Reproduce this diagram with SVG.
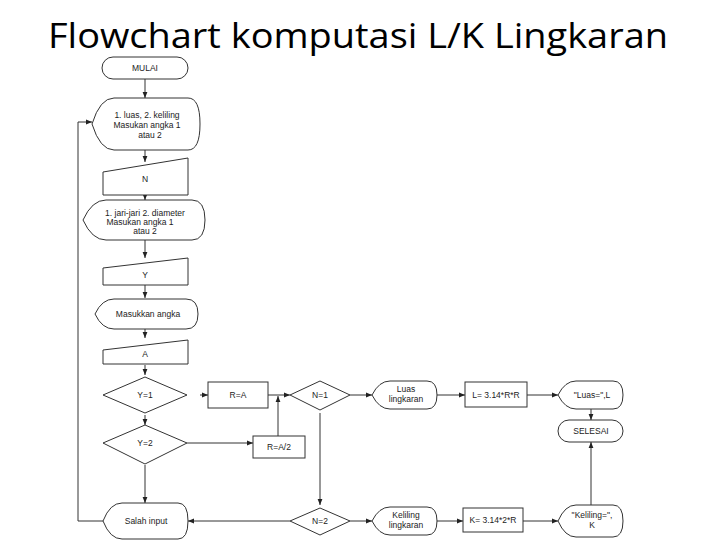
<svg xmlns="http://www.w3.org/2000/svg" width="720" height="540" viewBox="0 0 720 540">
<style>
.s{fill:#fff;stroke:#333;stroke-width:1}
.t{font-family:"Liberation Sans",Arial,sans-serif;font-size:8.5px;fill:#222;text-anchor:middle}
.c{fill:none;stroke:#333;stroke-width:1}
</style>
<defs><marker id="a" viewBox="0 0 10 10" refX="10" refY="5" markerWidth="6" markerHeight="6" orient="auto"><path d="M0,1L10,5L0,9Z" fill="#222"/></marker></defs>
<rect width="720" height="540" fill="#fff"/>
<text x="358" y="48" font-family="'Open Sans','Liberation Sans',sans-serif" font-size="35" text-anchor="middle" textLength="620" lengthAdjust="spacingAndGlyphs" fill="#000">Flowchart komputasi L/K Lingkaran</text>
<g id="connectors" class="c" marker-end="url(#a)">
<path d="M145,78V98"/><path d="M145,150V162"/><path d="M145,195V200"/><path d="M145,238V258"/>
<path d="M145,285V298"/><path d="M145,328V338"/><path d="M145,365V375"/><path d="M145,415V425"/>
<path d="M145,465V503"/><path d="M103,521H78V122H92"/>
<path d="M200,395H208"/><path d="M187,443H253"/><path d="M278,436V396"/><path d="M268,395H290"/>
<path d="M350,395H372"/><path d="M320,413V505"/><path d="M290,521H188"/><path d="M350,521H372"/>
<path d="M437,395H465"/><path d="M527,395H558"/><path d="M591,408V420"/>
<path d="M437,521H463"/><path d="M523,521H558"/><path d="M591,505V442"/>
</g>
<g id="mulai"><rect class="s" x="102" y="57" width="86" height="22" rx="11"/><text class="t" x="145" y="71">MULAI</text></g>
<g id="pilih1"><path class="s" d="M92,124Q100,98 114,98L188,98Q200,98 200,124Q200,150 188,150L114,150Q100,150 92,124Z"/><text class="t" x="147" y="118">1. luas, 2. keliling</text><text class="t" x="147" y="128">Masukan angka 1</text><text class="t" x="150" y="138">atau 2</text></g>
<g id="inN"><path class="s" d="M103,172L188,158V195H103Z"/><text class="t" x="145" y="182">N</text></g>
<g id="pilih2"><path class="s" d="M83,220Q92,200 106,200L192,200Q205,200 205,220Q205,240 192,240L106,240Q92,240 83,220Z"/><text class="t" x="145" y="216">1. jari-jari 2. diameter</text><text class="t" x="140" y="225">Masukan angka 1</text><text class="t" x="145" y="234">atau 2</text></g>
<g id="inY"><path class="s" d="M103,268L188,258V285H103Z"/><text class="t" x="145" y="278">Y</text></g>
<g id="masuk"><path class="s" d="M95,314Q102,299 114,299L186,299Q198,299 198,314Q198,329 186,329L114,329Q102,329 95,314Z"/><text class="t" x="148" y="317">Masukkan angka</text></g>
<g id="inA"><path class="s" d="M103,350L188,340V364H103Z"/><text class="t" x="145" y="357">A</text></g>
<g id="y1"><path class="s" d="M145,377L187,395L145,413L103,395Z"/><text class="t" x="145" y="398">Y=1</text></g>
<g id="y2"><path class="s" d="M145,425L187,443L145,464L103,443Z"/><text class="t" x="145" y="446">Y=2</text></g>
<g id="salah"><path class="s" d="M103,521Q110,503 122,503L178,503Q188,503 188,521Q188,539 178,539L122,539Q110,539 103,521Z"/><text class="t" x="146" y="524">Salah input</text></g>
<g id="ra"><rect class="s" x="208" y="382" width="60" height="26"/><text class="t" x="238" y="398">R=A</text></g>
<g id="ra2"><rect class="s" x="253" y="436" width="52" height="22"/><text class="t" x="279" y="450">R=A/2</text></g>
<g id="n1"><path class="s" d="M320,381L350,395L320,410L290,395Z"/><text class="t" x="320" y="398">N=1</text></g>
<g id="n2"><path class="s" d="M320,508L350,521L320,535L290,521Z"/><text class="t" x="320" y="524">N=2</text></g>
<g id="luas"><path class="s" d="M372,395Q379,381 390,381L427,381Q437,381 437,395Q437,409 427,409L390,409Q379,409 372,395Z"/><text class="t" x="406" y="392">Luas</text><text class="t" x="406" y="402">lingkaran</text></g>
<g id="kel"><path class="s" d="M372,521Q379,507 390,507L427,507Q437,507 437,521Q437,535 427,535L390,535Q379,535 372,521Z"/><text class="t" x="406" y="518">Keliling</text><text class="t" x="406" y="528">lingkaran</text></g>
<g id="lrumus"><rect class="s" x="465" y="382" width="62" height="25"/><text class="t" x="496" y="398">L= 3.14*R*R</text></g>
<g id="krumus"><rect class="s" x="463" y="508" width="60" height="24"/><text class="t" x="493" y="523">K= 3.14*2*R</text></g>
<g id="outL"><path class="s" d="M558,395Q565,381 576,381L613,381Q623,381 623,395Q623,409 613,409L576,409Q565,409 558,395Z"/><text class="t" x="592" y="398">"Luas=",L</text></g>
<g id="selesai"><rect class="s" x="558" y="420" width="65" height="22" rx="11"/><text class="t" x="591" y="434">SELESAI</text></g>
<g id="outK"><path class="s" d="M558,521Q565,505 576,505L613,505Q623,505 623,521Q623,537 613,537L576,537Q565,537 558,521Z"/><text class="t" x="592" y="518">"Keliling=",</text><text class="t" x="592" y="528">K</text></g>
</svg>
